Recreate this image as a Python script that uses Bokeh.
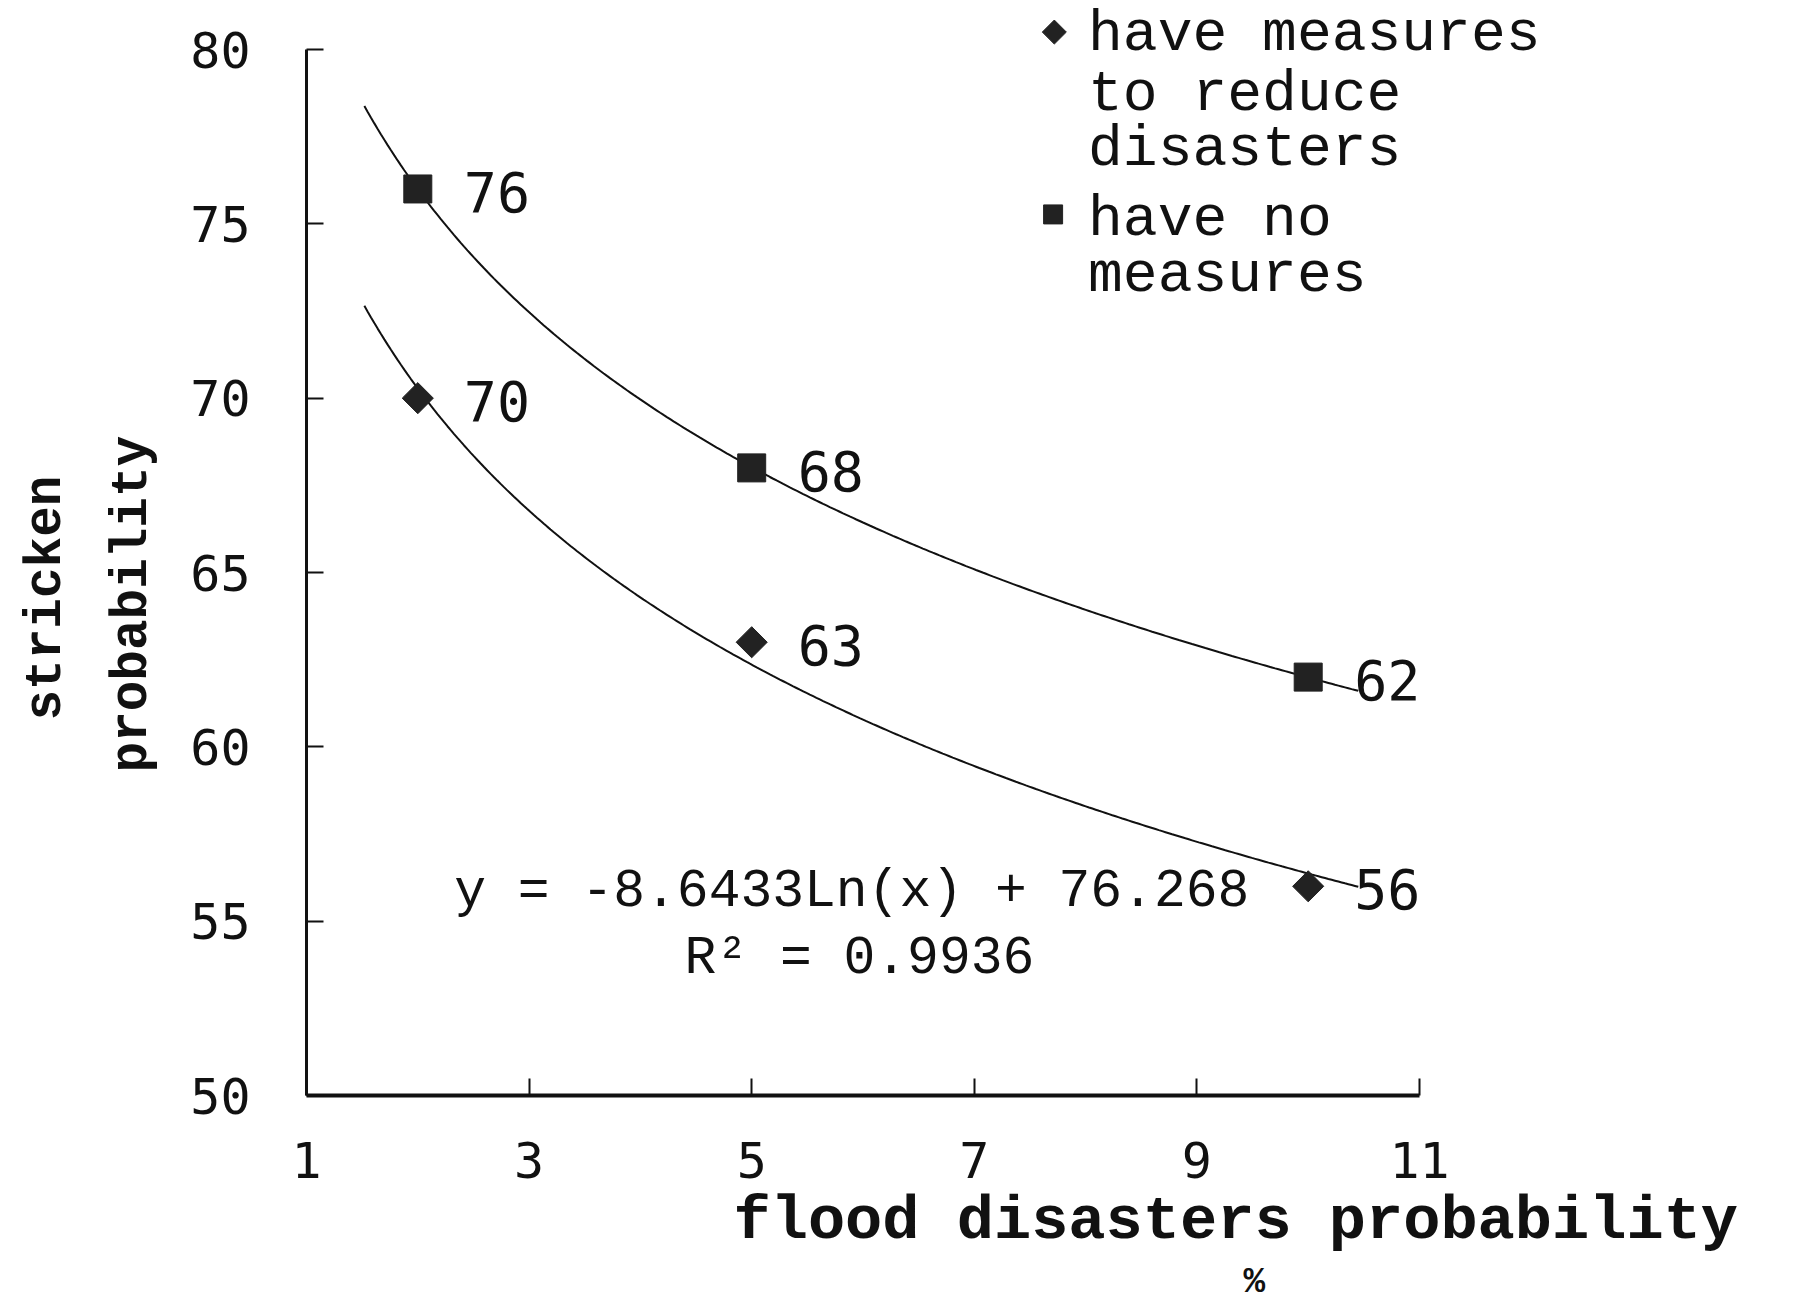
import numpy as np
from bokeh.plotting import figure
from bokeh.models import Range1d, FixedTicker, Label, Title
from bokeh.embed import file_html
from bokeh.resources import INLINE
from bokeh.core.properties import value

# ---------------- data ----------------
x_vals = [2, 5, 10]
with_measures = [70, 63, 56]
no_measures = [76, 68, 62]
y_ticks = [50, 55, 60, 65, 70, 75, 80]
x_ticks = [1, 3, 5, 7, 9, 11]
legend_lines_1 = ["have measures", "to reduce", "disasters"]
legend_lines_2 = ["have no", "measures"]
equation_text = "y = -8.6433Ln(x) + 76.268"
r2_text = "R² = 0.9936"
x_title = "flood disasters probability"
x_unit = "%"
y_title_1 = "stricken"
y_title_2 = "probability"
trend_start, trend_end = 1.52, 10.45

# ---------------- layout ----------------
FL, FR, FT, FB = 306, 1800, 0, 1095        # frame edges (canvas px)
ax_right_px = 1419                         # pixel of x = 11
ax_top_px = 49                             # pixel of y = 80
x_end = 1 + 10 * (FR - FL) / (ax_right_px - FL)
y_end = 50 + 30 * (FB - FT) / (FB - ax_top_px)

MONO = "Liberation Mono"
SANS = "DejaVu Sans Mono"
INK = "#111111"
MARK = "#222222"

p = figure(frame_width=FR - FL, frame_height=FB - FT,
           x_range=Range1d(1, x_end), y_range=Range1d(50, y_end),
           output_backend="svg", toolbar_location=None,
           min_border_left=FL, min_border_right=10,
           min_border_top=FT, min_border_bottom=190)
p.outline_line_color = None
p.grid.visible = False
p.background_fill_color = "white"
p.border_fill_color = "white"

main_x = p.xaxis[0]
main_y = p.yaxis[0]
for ax, ticks, bnd in ((main_x, x_ticks, (1, 11)), (main_y, y_ticks, (50, 80))):
    ax.bounds = bnd
    ax.ticker = FixedTicker(ticks=ticks)
    ax.major_tick_in = 17
    ax.major_tick_out = 0
    ax.minor_tick_line_color = None
    ax.axis_line_color = INK
    ax.major_tick_line_color = INK
    ax.major_tick_line_width = 2
    ax.major_label_text_font = SANS
    ax.major_label_text_font_size = "50px"
    ax.major_label_text_color = INK
main_x.axis_line_width = 4
main_y.axis_line_width = 3
main_x.major_label_standoff = 46
main_y.major_label_standoff = 56


def side_title(text, size, offset, standoff):
    return Title(text=text, align="left", offset=offset, standoff=standoff,
                 text_font=MONO, text_font_style="bold", text_font_size=size,
                 text_color=INK)


# axis titles (placed where the reference puts them)
p.add_layout(side_title(x_title, "62px", 427, 6), "below")
p.add_layout(side_title(x_unit, "36px", 937, 0), "below")
p.add_layout(side_title(y_title_2, "51px", 323, 54), "left")
p.add_layout(side_title(y_title_1, "51px", 375, 0), "left")

# ---------------- trend lines (log fits of the data) ----------------
xx = np.linspace(trend_start, trend_end, 300)
for series in (with_measures, no_measures):
    k, b = np.polyfit(np.log(x_vals), series, 1)
    p.line(xx, k * np.log(xx) + b, line_color=INK, line_width=2)

# ---------------- markers ----------------
p.scatter(x_vals, no_measures, marker="square", size=28, fill_color=MARK, line_color=MARK)
p.scatter(x_vals, with_measures, marker="square", angle=np.pi / 4, size=22,
          fill_color=MARK, line_color=MARK)

# ---------------- data labels ----------------
for series in (with_measures, no_measures):
    p.text(x=x_vals, y=series, text=[str(v) for v in series], x_offset=46, y_offset=3,
           text_align="left", text_baseline="middle", text_color=INK,
           text_font=value(SANS), text_font_size="55px")

# ---------------- equation ----------------
p.add_layout(Label(x=2.327, y=55.84, text=equation_text, text_align="left", text_baseline="middle",
                   text_font=MONO, text_font_size="53px", text_color=INK))
p.add_layout(Label(x=4.396, y=53.91, text=r2_text, text_align="left", text_baseline="middle",
                   text_font=MONO, text_font_size="53px", text_color=INK))

# ---------------- legend ----------------
p.scatter([7.719], [80.50], marker="square", angle=np.pi / 4, size=17, fill_color=MARK, line_color=MARK)
p.scatter([7.708], [75.27], marker="square", size=19, fill_color=MARK, line_color=MARK)
leg_y = [80.43, 78.70, 77.13, 75.13, 73.52]
for txt, yy in zip(legend_lines_1 + legend_lines_2, leg_y):
    p.add_layout(Label(x=8.022, y=yy, text=txt, text_align="left", text_baseline="middle",
                       text_font=MONO, text_font_size="58px", text_color=INK))

open("out.html", "w").write(file_html(p, INLINE))
